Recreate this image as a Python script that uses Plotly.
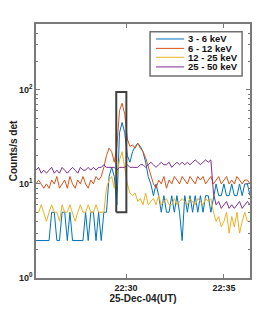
import plotly.graph_objects as go
import pandas as pd

# time base: 8 s samples from 22:25:24 to 22:36:20
t0 = "2004-12-25 22:25:24"
n_pts = 83
times = pd.date_range(t0, periods=n_pts, freq="8s")

band_names = ["3 - 6 keV", "6 - 12 keV", "12 - 25 keV", "25 - 50 keV"]
band_colors = ["#0072BD", "#D95319", "#EDB120", "#7E2F8E"]

counts_3_6 = [2.5, 2.5, 2.5, 2.5, 2.5, 2.5, 5, 5, 2.5, 2.5,
              5, 5, 2.5, 5, 2.5, 2.5, 2.5, 2.5, 2.5, 5,
              2.5, 5, 5, 2.5, 5, 2.5, 5, 5, 12, 15,
              12, 6, 35, 45, 35, 20, 17, 22, 25, 27,
              25, 22, 17, 12, 10, 7.5, 10, 7.5, 5, 7.5,
              5, 5, 7.5, 5, 7.5, 5, 2.5, 7.5, 5, 7.5,
              5, 7.5, 5, 7.5, 5, 7.5, 7.5, 5, 7.5, 10,
              7.5, 7.5, 10, 7.5, 7.5, 10, 7.5, 7.5, 10, 7.5,
              10, 10, 7.5]
counts_6_12 = [10, 11, 10, 9, 10, 9, 11, 10, 12, 9,
               10, 11, 9, 12, 10, 9, 11, 10, 12, 10,
               9, 11, 10, 12, 11, 12, 15, 20, 24, 22,
               17, 25, 60, 72, 55, 30, 25, 26, 24, 27,
               24, 22, 19, 15, 12, 10, 9, 11, 10, 12,
               9, 11, 10, 12, 11, 10, 12, 11, 10, 12,
               11, 10, 12, 11, 12, 10, 11, 12, 10, 11,
               12, 10, 11, 12, 10, 11, 10, 12, 11, 10,
               11, 11, 10]
counts_12_25 = [5, 5, 6, 5, 4, 5, 6, 5, 5, 4,
                6, 5, 5, 6, 5, 4, 5, 6, 5, 5,
                6, 5, 5, 6, 5, 5, 5, 9, 11, 12,
                9, 12, 18, 22, 14, 10, 8, 7.5, 8, 6.5,
                7, 6, 8, 6, 6.5, 7, 6, 7.5, 6, 6.5,
                7, 6, 6, 7, 6, 6.5, 7, 6.5, 6, 7,
                6.5, 6, 7, 6.5, 6, 7, 6.5, 7, 5, 4,
                4.5, 3.5, 4, 5, 3, 4.5, 3.5, 5, 3, 4,
                5, 4, 4]
counts_25_50 = [14, 15, 13, 14, 13, 14, 15, 13, 14, 13,
                15, 14, 13, 14, 15, 14, 13, 15, 14, 14,
                15, 14, 15, 14, 15, 15, 16, 15, 15, 15,
                15, 14, 15, 15, 15, 16, 15, 15, 15, 15,
                16, 16, 15, 16, 17, 16, 15, 16, 17, 16,
                16, 17, 15, 16, 17, 16, 17, 16, 17, 16,
                17, 18, 17, 16, 17, 18, 17, 18, 8, 6,
                6.5, 5.5, 6, 6.5, 5.5, 6, 5.5, 6, 6.5, 5.5,
                6, 6.5, 6]
series = [counts_3_6, counts_6_12, counts_12_25, counts_25_50]

# highlighted interval
box_t = ["2004-12-25 22:29:30", "2004-12-25 22:30:01"]
box_y = [5, 95]

x_range = ["2004-12-25 22:25:24", "2004-12-25 22:36:20"]
x_ticks = ["2004-12-25 22:30:00", "2004-12-25 22:35:00"]
x_ticktext = ["22:30", "22:35"]
y_ticks = [1, 10, 100]
y_ticktext = ["<b>10<sup>0</sup></b>", "<b>10<sup>1</sup></b>", "<b>10<sup>2</sup></b>"]

FONT = "Liberation Sans, Arial, Helvetica, sans-serif"
AXC = "#7a7a7a"

fig = go.Figure()
for name, col, vals in zip(band_names, band_colors, series):
    fig.add_trace(go.Scatter(x=times, y=vals, mode="lines", name=name,
                             line=dict(color=col, width=1), showlegend=False))

fig.add_trace(go.Scatter(
    x=[box_t[0], box_t[1], box_t[1], box_t[0], box_t[0]],
    y=[box_y[0], box_y[0], box_y[1], box_y[1], box_y[0]],
    mode="lines", line=dict(color="#404040", width=2), showlegend=False,
    hoverinfo="skip"))

# custom compact legend (paper coords)
lx0, lx1, ly0, ly1 = 0.533, 0.963, 0.795, 0.969
fig.add_shape(type="rect", xref="paper", yref="paper", x0=lx0, x1=lx1, y0=ly0, y1=ly1,
              line=dict(color="#707070", width=1.5), fillcolor="white", layer="above")
rows = [0.941, 0.904, 0.869, 0.831]
for name, col, yy in zip(band_names, band_colors, rows):
    fig.add_shape(type="line", xref="paper", yref="paper", x0=0.561, x1=0.692,
                  y0=yy, y1=yy, line=dict(color=col, width=1), layer="above")
    fig.add_annotation(xref="paper", yref="paper", x=0.701, y=yy, text="<b>%s</b>" % name,
                       showarrow=False, xanchor="left", yanchor="middle",
                       font=dict(family=FONT, size=9.5, color="#111"))

# page body has an 8px margin: shift the figure geometry accordingly
fig.update_layout(
    width=268, height=297,
    margin=dict(l=28, r=26, t=16, b=27),
    paper_bgcolor="white", plot_bgcolor="white",
    font=dict(family=FONT, size=9, color="#222"),
    showlegend=False,
)
fig.update_xaxes(
    type="date", range=x_range, tickmode="array", tickvals=x_ticks,
    ticktext=["<b>%s</b>" % s for s in x_ticktext], automargin=False,
    ticks="inside", ticklen=4, tickcolor=AXC, showgrid=False, zeroline=False,
    showline=True, linecolor=AXC, linewidth=1.5, mirror="ticks",
    tickfont=dict(family=FONT, size=9, color="#222"),
    title=dict(text="<b>25-Dec-04(UT)</b>", font=dict(family=FONT, size=10, color="#222"),
               standoff=2),
)
fig.update_yaxes(
    type="log", range=[0, 2.7], tickmode="array", tickvals=y_ticks, ticktext=y_ticktext,
    automargin=False,
    ticks="inside", ticklen=4, tickcolor=AXC, showgrid=False, zeroline=False,
    showline=True, linecolor=AXC, linewidth=1.5, mirror="ticks",
    minor=dict(ticks="inside", ticklen=2, tickcolor=AXC, dtick="D1", showgrid=False),
    tickfont=dict(family=FONT, size=9, color="#222"),
    title=dict(text="<b>Counts/s det</b>", font=dict(family=FONT, size=10, color="#222"),
               standoff=4),
)

fig.write_html("out.html")
